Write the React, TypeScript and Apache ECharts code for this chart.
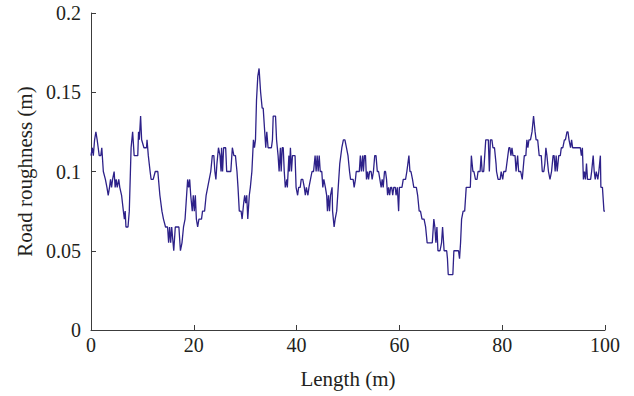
import React, { useEffect, useRef } from "react";
import * as echarts from "echarts";

// [length (m), roughness (m)], split by 20 m stretches
const stretch0to20: [number, number][] = [
  [0, 0.11], [0.25, 0.115], [0.45, 0.11], [0.7, 0.12], [0.95, 0.125], [1.2, 0.12], [1.4, 0.115],
  [1.6, 0.11], [1.9, 0.11], [2.1, 0.115], [2.4, 0.1], [2.8, 0.095], [3.1, 0.09], [3.35, 0.085],
  [3.6, 0.09], [3.8, 0.095], [4.0, 0.09], [4.2, 0.095], [4.5, 0.1], [4.7, 0.09], [4.9, 0.095],
  [5.1, 0.09], [5.4, 0.095], [5.6, 0.09], [5.95, 0.085], [6.3, 0.075], [6.5, 0.07], [6.65, 0.075],
  [6.8, 0.065], [7.2, 0.065], [7.45, 0.075], [7.8, 0.115], [8.1, 0.125], [8.4, 0.11], [9.1, 0.11],
  [9.25, 0.125], [9.4, 0.12], [9.65, 0.135], [9.85, 0.12], [10.3, 0.115], [10.8, 0.115], [10.9, 0.12],
  [11.15, 0.11], [11.5, 0.1], [11.7, 0.095], [12.1, 0.095], [12.5, 0.1], [13.0, 0.1], [13.4, 0.085],
  [13.8, 0.075], [14.1, 0.07], [14.5, 0.065], [14.9, 0.065], [15.1, 0.055], [15.3, 0.065], [15.5, 0.055],
  [15.7, 0.065], [16.1, 0.05], [16.4, 0.065], [17.1, 0.065], [17.4, 0.05], [17.7, 0.055], [18.0, 0.065],
  [18.3, 0.07], [18.5, 0.08], [18.8, 0.095], [19.0, 0.09], [19.2, 0.095], [19.4, 0.085], [19.7, 0.075],
  [19.9, 0.085],
];

const stretch20to40: [number, number][] = [
  [20.1, 0.075], [20.3, 0.085], [20.5, 0.07], [20.75, 0.065], [21.0, 0.07], [21.5, 0.07], [21.7, 0.075],
  [22.1, 0.075], [22.4, 0.085], [22.7, 0.09], [23.0, 0.095], [23.3, 0.1], [23.6, 0.11], [23.9, 0.11],
  [24.1, 0.1], [24.3, 0.095], [24.5, 0.105], [24.8, 0.115], [25.1, 0.11], [25.3, 0.1], [25.4, 0.115],
  [25.6, 0.1], [25.8, 0.115], [26.2, 0.115], [26.4, 0.1], [27.2, 0.1], [27.5, 0.115], [27.8, 0.11],
  [28.1, 0.11], [28.4, 0.1], [28.6, 0.09], [28.85, 0.075], [29.2, 0.075], [29.4, 0.07], [29.7, 0.08],
  [29.9, 0.085], [30.1, 0.08], [30.3, 0.085], [30.5, 0.07], [30.8, 0.085], [31.0, 0.09], [31.3, 0.1],
  [31.6, 0.12], [31.8, 0.115], [32.0, 0.12], [32.2, 0.145], [32.45, 0.16], [32.7, 0.165], [33.0, 0.15],
  [33.3, 0.14], [33.5, 0.14], [33.8, 0.125], [34.0, 0.115], [34.2, 0.125], [34.45, 0.115], [35.1, 0.115],
  [35.3, 0.12], [35.45, 0.135], [35.9, 0.135], [36.1, 0.12], [36.4, 0.11], [36.6, 0.1], [36.85, 0.115],
  [37.0, 0.1], [37.2, 0.115], [37.4, 0.115], [37.6, 0.1], [37.8, 0.09], [38.1, 0.095], [38.2, 0.09],
  [38.5, 0.11], [38.6, 0.1], [38.8, 0.115], [39.0, 0.1], [39.2, 0.11], [39.7, 0.11], [39.9, 0.09],
];

const stretch40to60: [number, number][] = [
  [40.2, 0.085], [40.4, 0.09], [40.7, 0.09], [40.9, 0.095], [41.2, 0.095], [41.5, 0.09], [41.7, 0.085],
  [41.9, 0.09], [42.2, 0.085], [42.4, 0.09], [42.7, 0.095], [43.0, 0.1], [43.3, 0.1], [43.6, 0.11],
  [43.8, 0.1], [44.0, 0.11], [44.2, 0.1], [44.4, 0.11], [44.6, 0.1], [44.9, 0.1], [45.1, 0.09],
  [45.3, 0.095], [45.6, 0.09], [45.85, 0.085], [46.0, 0.075], [46.2, 0.085], [46.4, 0.075], [46.6, 0.085],
  [46.9, 0.09], [47.0, 0.075], [47.3, 0.065], [47.5, 0.07], [47.8, 0.075], [48.1, 0.09], [48.4, 0.105],
  [48.8, 0.115], [49.1, 0.12], [49.4, 0.12], [49.7, 0.115], [50.0, 0.11], [50.3, 0.1], [50.5, 0.095],
  [51.0, 0.095], [51.2, 0.09], [51.45, 0.095], [51.6, 0.1], [52.2, 0.1], [52.4, 0.11], [52.6, 0.1],
  [52.85, 0.11], [53.0, 0.1], [53.2, 0.11], [53.4, 0.11], [53.6, 0.095], [53.8, 0.1], [54.0, 0.095],
  [54.2, 0.1], [54.5, 0.1], [54.7, 0.095], [54.95, 0.1], [55.2, 0.11], [55.45, 0.11], [55.7, 0.1],
  [55.95, 0.1], [56.2, 0.095], [56.45, 0.09], [56.65, 0.095], [56.85, 0.09], [57.1, 0.1], [57.3, 0.1],
  [57.5, 0.095], [57.7, 0.085], [57.9, 0.09], [58.1, 0.085], [58.3, 0.09], [58.5, 0.09], [58.7, 0.085],
  [58.9, 0.09], [59.2, 0.09], [59.35, 0.085], [59.6, 0.09], [59.85, 0.075], [60.0, 0.09],
];

const stretch60to80: [number, number][] = [
  [60.5, 0.09], [60.75, 0.095], [61.2, 0.095], [61.45, 0.1], [61.65, 0.105], [61.85, 0.11], [62.05, 0.1],
  [62.25, 0.1], [62.55, 0.095], [62.8, 0.09], [63.3, 0.09], [63.55, 0.085], [63.85, 0.075], [64.1, 0.075],
  [64.4, 0.07], [64.8, 0.07], [65.1, 0.065], [65.4, 0.055], [66.4, 0.055], [66.7, 0.07], [66.9, 0.065],
  [67.1, 0.055], [67.3, 0.065], [67.5, 0.05], [67.9, 0.05], [68.2, 0.055], [68.4, 0.065], [68.7, 0.05],
  [69.2, 0.05], [69.35, 0.045], [69.5, 0.035], [70.4, 0.035], [70.6, 0.05], [71.5, 0.05], [71.7, 0.045],
  [71.9, 0.055], [72.1, 0.07], [72.4, 0.075], [72.7, 0.075], [73.0, 0.09], [73.8, 0.09], [74.0, 0.11],
  [74.3, 0.1], [74.5, 0.1], [74.8, 0.095], [75.1, 0.095], [75.3, 0.1], [75.7, 0.1], [75.9, 0.11],
  [76.1, 0.1], [76.4, 0.1], [76.6, 0.11], [76.8, 0.12], [77.3, 0.12], [77.5, 0.1], [77.7, 0.12],
  [78.0, 0.12], [78.2, 0.115], [78.5, 0.115], [78.8, 0.105], [78.9, 0.1], [79.2, 0.095], [79.6, 0.095],
  [79.8, 0.1], [80.1, 0.095],
];

const stretch80to100: [number, number][] = [
  [80.3, 0.1], [80.7, 0.1], [81.1, 0.11], [81.3, 0.115], [81.5, 0.115], [81.7, 0.11], [81.9, 0.115],
  [82.1, 0.11], [82.5, 0.11], [82.7, 0.1], [83.0, 0.11], [83.2, 0.1], [83.6, 0.1], [83.9, 0.095],
  [84.3, 0.11], [84.6, 0.11], [84.8, 0.12], [85.0, 0.115], [85.2, 0.12], [85.5, 0.12], [85.8, 0.125],
  [86.1, 0.135], [86.4, 0.125], [86.6, 0.12], [86.9, 0.12], [87.2, 0.11], [87.6, 0.11], [87.8, 0.1],
  [88.1, 0.1], [88.3, 0.105], [88.5, 0.115], [88.7, 0.11], [89.0, 0.1], [89.3, 0.095], [89.6, 0.1],
  [89.9, 0.11], [90.1, 0.11], [90.3, 0.1], [90.5, 0.11], [90.7, 0.1], [91.0, 0.11], [91.3, 0.11],
  [91.5, 0.115], [91.8, 0.115], [92.1, 0.12], [92.3, 0.12], [92.6, 0.125], [92.8, 0.125], [93.0, 0.12],
  [93.3, 0.115], [93.5, 0.12], [93.7, 0.115], [95.2, 0.115], [95.4, 0.11], [95.6, 0.115], [95.8, 0.095],
  [96.0, 0.1], [96.2, 0.095], [96.4, 0.105], [96.6, 0.095], [97.2, 0.095], [97.4, 0.1], [97.7, 0.11],
  [97.9, 0.1], [98.1, 0.095], [98.3, 0.1], [98.6, 0.095], [98.8, 0.1], [99.1, 0.11], [99.2, 0.09],
  [99.5, 0.09], [99.8, 0.075], [100, 0.075],
];

const xTickLabels = ["0", "20", "40", "60", "80", "100"];
const yTickLabels = ["0", "0.05", "0.1", "0.15", "0.2"];

const FONT = "Liberation Serif";
const TEXT = "#231f20";
const AXIS = "#3c3c3c";

export default function App() {
  const ref = useRef<HTMLDivElement>(null);

  useEffect(() => {
    if (!ref.current) return;
    const chart = echarts.init(ref.current, null, { renderer: "svg" });
    const profile = [
      ...stretch0to20,
      ...stretch20to40,
      ...stretch40to60,
      ...stretch60to80,
      ...stretch80to100,
    ];
    chart.setOption({
      animation: false,
      backgroundColor: "#ffffff",
      grid: { left: 91, right: 29, top: 13, bottom: 66, containLabel: false },
      xAxis: {
        type: "value",
        min: 0,
        max: 100,
        interval: 20,
        name: "Length (m)",
        nameLocation: "middle",
        nameGap: 38,
        nameTextStyle: { fontFamily: FONT, fontSize: 21, color: TEXT },
        axisLine: { show: true, lineStyle: { color: AXIS, width: 1 } },
        axisTick: { show: true, inside: true, length: 5, lineStyle: { color: AXIS } },
        axisLabel: {
          fontFamily: FONT,
          fontSize: 20,
          color: TEXT,
          margin: 5,
          formatter: (v: number) => xTickLabels[Math.round(v / 20)] ?? String(v),
        },
        splitLine: { show: false },
      },
      yAxis: {
        type: "value",
        min: 0,
        max: 0.2,
        interval: 0.05,
        name: "Road roughness (m)",
        nameLocation: "middle",
        nameRotate: 90,
        nameGap: 53,
        nameTextStyle: { fontFamily: FONT, fontSize: 21, color: TEXT },
        axisLine: { show: true, lineStyle: { color: AXIS, width: 1 } },
        axisTick: { show: true, inside: true, length: 5, lineStyle: { color: AXIS } },
        axisLabel: {
          fontFamily: FONT,
          fontSize: 20,
          color: TEXT,
          margin: 10,
          formatter: (v: number) => yTickLabels[Math.round(v / 0.05)] ?? String(v),
        },
        splitLine: { show: false },
      },
      series: [
        {
          type: "line",
          data: profile,
          showSymbol: false,
          symbol: "none",
          lineStyle: { color: "#2d2189", width: 1.3 },
        },
      ],
    });
    return () => chart.dispose();
  }, []);

  return (
    <div
      ref={ref}
      style={{ width: 634, height: 396, position: "absolute", left: 0, top: 0 }}
    />
  );
}
